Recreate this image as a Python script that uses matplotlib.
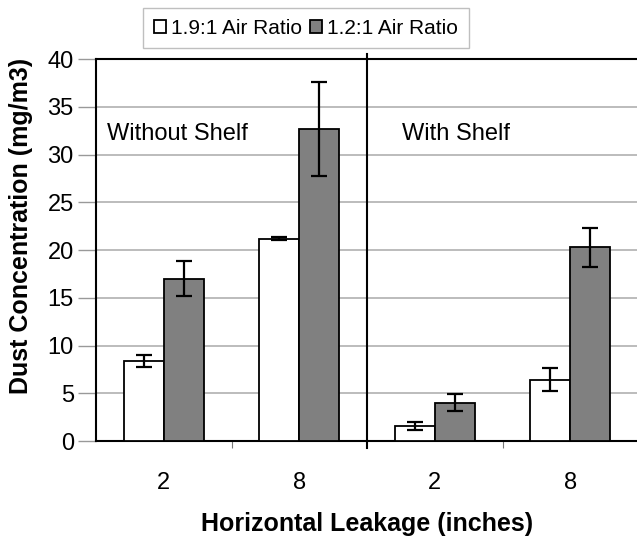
import matplotlib
matplotlib.use("Agg")
import matplotlib.pyplot as plt
import numpy as np

plt.rcParams['font.family'] = ['Liberation Sans', 'DejaVu Sans']

categories = ["2", "8", "2", "8"]
series_names = ["1.9:1 Air Ratio", "1.2:1 Air Ratio"]
low_ratio = [8.4, 21.2, 1.6, 6.4]          # 1.9:1
low_err = [0.65, 0.15, 0.4, 1.2]
high_ratio = [17.0, 32.7, 4.0, 20.3]       # 1.2:1
high_err = [1.8, 4.9, 0.9, 2.05]
section_labels = ["Without Shelf", "With Shelf"]
yticks = [0, 5, 10, 15, 20, 25, 30, 35, 40]

fig = plt.figure(figsize=(6.37, 5.4), dpi=100)
ax = fig.add_axes([0.1507, 0.1833, 0.8509, 0.7074])

x = np.arange(len(categories))
w = 0.295
ebkw = dict(ecolor='black', elinewidth=1.6, capsize=6, capthick=1.6)
b1 = ax.bar(x - w/2, low_ratio, w, color='white', edgecolor='black', linewidth=1.3,
            yerr=low_err, error_kw=ebkw, zorder=3, label=series_names[0])
b2 = ax.bar(x + w/2, high_ratio, w, color='#808080', edgecolor='black', linewidth=1.3,
            yerr=high_err, error_kw=ebkw, zorder=3, label=series_names[1])

ax.set_xlim(-0.5, 3.5)
ax.set_ylim(0, 40)
ax.set_yticks(yticks)
ax.set_xticks(x)
ax.set_xticklabels(categories)
ax.set_xticks([0.5, 2.5], minor=True)
ax.tick_params(axis='x', which='major', length=0, labelsize=17, pad=22)
ax.tick_params(axis='x', which='minor', length=5, width=0.8, color='#777777')
ax.tick_params(axis='y', labelsize=17, length=13, width=1.0, color='#999999', pad=3)
ax.yaxis.grid(True, color='#b0b0b0', linewidth=1.2, zorder=0)
ax.set_axisbelow(True)
for s in ['left', 'bottom', 'top']:
    ax.spines[s].set_linewidth(1.5)
ax.spines['right'].set_visible(False)

# divider between sections
ax.plot([1.5, 1.5], [-0.7, 40.5], color='black', linewidth=1.5, clip_on=False, zorder=4)

ax.text(-0.42, 32.2, section_labels[0], fontsize=17, va='center', ha='left')
ax.text(1.76, 32.2, section_labels[1], fontsize=17, va='center', ha='left')

ax.set_ylabel("Dust Concentration (mg/m3)", fontsize=18, fontweight='bold')
ax.yaxis.set_label_coords(-0.116, 0.563)
ax.set_xlabel("Horizontal Leakage (inches)", fontsize=18, fontweight='bold')
ax.xaxis.set_label_coords(0.5, -0.185)

leg = fig.legend(handles=[b1, b2], labels=series_names, loc='center',
                 bbox_to_anchor=(306/637, 1 - 28/540), ncol=2, fontsize=15,
                 frameon=True, fancybox=False, edgecolor='#b0b0b0',
                 handlelength=0.6, handleheight=0.6, handletextpad=0.25,
                 columnspacing=0.35, borderpad=0.5, borderaxespad=0)
leg.get_frame().set_linewidth(1.0)

fig.savefig("out.png", dpi=100)
